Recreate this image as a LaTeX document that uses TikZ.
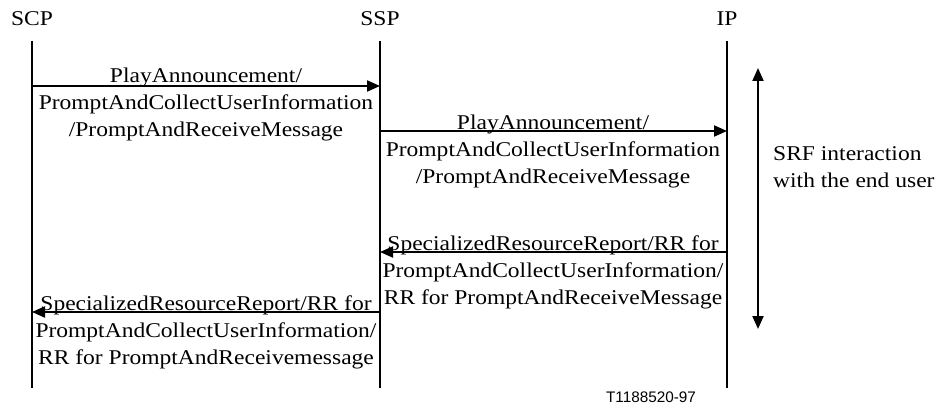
\documentclass[tikz,border=0pt]{standalone}
\usepackage{fontspec}
\setmainfont{Liberation Serif}[FakeStretch=1.12]
\newfontfamily\tagfont{Liberation Sans}
\usetikzlibrary{arrows.meta}
\begin{document}
\begin{tikzpicture}[x=1pt,y=-1pt,
  life/.style={line width=2pt},
  msg/.style={line width=2pt,-{Triangle[length=13pt,width=11pt]}},
  lbl/.style={font=\fontsize{21}{27}\selectfont, align=center, inner sep=0pt, anchor=base},
  head/.style={font=\fontsize{21}{25}\selectfont, inner sep=0pt, anchor=base},
  side/.style={font=\fontsize{21}{27}\selectfont, align=left, inner sep=0pt, anchor=base west}]
\useasboundingbox (0,0) rectangle (940,412);
% heads
\node[head] (scp) at (32,26) {SCP};
\node[head] (ssp) at (380,26) {SSP};
\node[head] (ip) at (727,26) {IP};
% lifelines
\coordinate (scpT) at (32,41);  \coordinate (scpB) at (32,388);
\coordinate (sspT) at (380,41); \coordinate (sspB) at (380,388);
\coordinate (ipT) at (727,41);  \coordinate (ipB) at (727,388);
\draw[life] (scpT) -- (scpB);
\draw[life] (sspT) -- (sspB);
\draw[life] (ipT) -- (ipB);
% message 1
\coordinate (m1a) at (32,86);  \coordinate (m1b) at (380,86);
\draw[msg] (m1a) -- (m1b);
\node[lbl] (t1) at (206,136) {PlayAnnouncement/\\PromptAndCollectUserInformation\\/PromptAndReceiveMessage};
% message 2
\coordinate (m2a) at (380,131);  \coordinate (m2b) at (727,131);
\draw[msg] (m2a) -- (m2b);
\node[lbl] (t2) at (553,183) {PlayAnnouncement/\\PromptAndCollectUserInformation\\/PromptAndReceiveMessage};
% message 3
\coordinate (m3a) at (727,252);  \coordinate (m3b) at (380,252);
\draw[msg] (m3a) -- (m3b);
\node[lbl] (t3) at (553,304) {SpecializedResourceReport/RR for\\PromptAndCollectUserInformation/\\RR for PromptAndReceiveMessage};
% message 4
\coordinate (m4a) at (380,312);  \coordinate (m4b) at (32,312);
\draw[msg] (m4a) -- (m4b);
\node[lbl] (t4) at (206,364) {SpecializedResourceReport/RR for\\PromptAndCollectUserInformation/\\RR for PromptAndReceivemessage};
% SRF interaction
\coordinate (srfT) at (758,68); \coordinate (srfB) at (758,329);
\draw[msg, {Triangle[length=13pt,width=11pt]}-{Triangle[length=13pt,width=11pt]}] (srfT) -- (srfB);
\node[side] (srf) at (773,187) {SRF interaction\\with the end user};
% tag
\node[font=\tagfont\fontsize{15.3}{17}\selectfont, inner sep=0pt, anchor=base] (tag) at (651,402) {T1188520-97};
\end{tikzpicture}
\end{document}
